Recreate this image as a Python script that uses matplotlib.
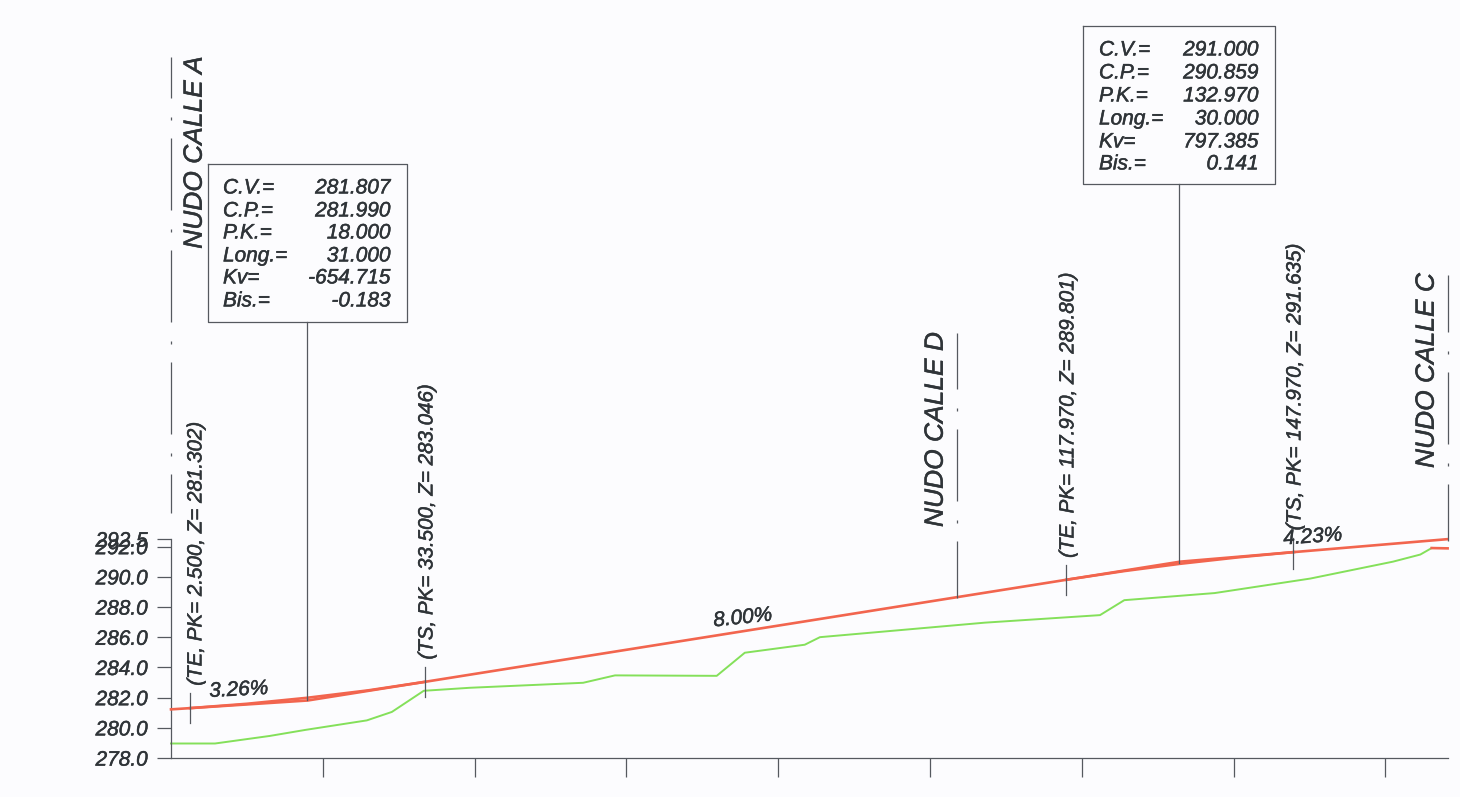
import matplotlib
matplotlib.use("Agg")
import matplotlib.pyplot as plt
import matplotlib.patheffects as pe
from matplotlib.text import Text

W, H = 1460, 797
INK = "#2f3438"
LINE = "#55595f"
RED = "#f2654e"
GREEN = "#84e05a"

# terrain
terrain_pk = [0, 5.8, 13.0, 17.7, 25.8, 29.1, 33.3, 39.4, 54.3, 58.5, 71.9, 75.6,
              83.5, 85.5, 107.2, 122.4, 125.6, 137.5, 150.1, 161.0, 164.6, 166.1]
terrain_z = [278.96, 278.96, 279.46, 279.86, 280.49, 281.05, 282.45, 282.65, 282.98,
             283.47, 283.44, 284.97, 285.5, 286.0, 286.96, 287.46, 288.45, 288.92,
             289.88, 291.0, 291.47, 291.9]

# grade line: tangents, then the vertical curves
tangent_pk = [0, 18.0, 132.97, 168.2]
tangent_z = [281.22, 281.807, 291.0, 292.49]
curve_pk = [2.5, 10.0, 18.0, 26.0, 33.5, 117.97, 125.5, 132.97, 140.5, 147.97]
curve_z = [281.302, 281.59, 281.99, 282.48, 283.046, 289.801, 290.37, 290.859, 291.28, 291.635]
stub_pk = [166.1, 168.2]
stub_z = [291.9, 291.88]

y_ticks = [278, 280, 282, 284, 286, 288, 290, 292, 292.5]
x_ticks = [20, 40, 60, 80, 100, 120, 140, 160]

labels_a = ["C.V.=", "C.P.=", "P.K.=", "Long.=", "Kv=", "Bis.="]
values_a = ["281.807", "281.990", "18.000", "31.000", "-654.715", "-0.183"]
values_b = ["291.000", "290.859", "132.970", "30.000", "797.385", "0.141"]

plt.rcParams["font.family"] = ["Liberation Sans", "DejaVu Sans"]
plt.rcParams["font.style"] = "italic"
plt.rcParams["lines.scale_dashes"] = False
plt.rcParams["text.hinting"] = "no_hinting"
plt.rcParams["text.hinting_factor"] = 1

fig = plt.figure(figsize=(W / 100, H / 100), dpi=100, facecolor="#fcfcfe")

# data axes sit exactly on the plotted frame
ax = fig.add_axes([171 / W, (H - 758) / H, (1448 - 171) / W, (758 - 539) / H])
ax.patch.set_alpha(0)
ax.set_xlim(0, 168.25)
ax.set_ylim(278, 292.5)
for side in ("top", "right"):
    ax.spines[side].set_visible(False)
for side in ("left", "bottom"):
    ax.spines[side].set_color(LINE)
    ax.spines[side].set_linewidth(0.9)
ax.set_xticks(x_ticks)
ax.set_xticklabels([])
ax.set_yticks(y_ticks)
ax.set_yticklabels([f"{t:.1f}" for t in y_ticks], fontsize=15, color=INK)
ax.tick_params(axis="x", direction="out", length=13.7, width=0.9, color=LINE)
ax.tick_params(axis="y", direction="out", length=10, width=0.9, color=LINE, pad=6.5)

ax.plot(terrain_pk, terrain_z, color=GREEN, lw=1.4, clip_on=False)
ax.plot(tangent_pk, tangent_z, color=RED, lw=1.9, clip_on=False, zorder=3)
ax.plot(curve_pk[:5], curve_z[:5], color=RED, lw=1.9, zorder=3)
ax.plot(curve_pk[5:], curve_z[5:], color=RED, lw=1.9, zorder=3)
ax.plot(stub_pk, stub_z, color=RED, lw=1.9, clip_on=False, zorder=3)

# overlay in pixels for the annotations around the profile
ov = fig.add_axes([0, 0, 1, 1])
ov.set_xlim(0, W)
ov.set_ylim(H, 0)
ov.axis("off")
ov.patch.set_alpha(0)


def note_line(x, top, bottom, first):
    # long dash / dot pattern, 112 px period
    pattern = tuple(v * 0.72 for v in (72, 19, 3, 18))
    ov.plot([x, x], [top, bottom], color=LINE, lw=0.9,
            linestyle=((72 - first) * 0.72, pattern), dash_capstyle="butt")


note_line(171, 57, 513, 41)
note_line(957, 333, 598, 56)
note_line(1448, 275, 541, 57)

for x, ymid, name in [(195, 154, "NUDO CALLE A"), (936, 431, "NUDO CALLE D"), (1427, 372, "NUDO CALLE C")]:
    ov.text(x, ymid, name, rotation=90, ha="center", va="center", fontsize=19, color=INK)

for x, y0, y1, lx, ly, txt in [
    (190, 693, 723, 196, 551, "(TE, PK= 2.500, Z= 281.302)"),
    (425, 667, 697, 427, 519, "(TS, PK= 33.500, Z= 283.046)"),
    (1066, 565, 595, 1068, 412, "(TE, PK= 117.970, Z= 289.801)"),
    (1293, 538, 569, 1295, 384, "(TS, PK= 147.970, Z= 291.635)"),
]:
    ov.plot([x, x], [y0, y1], color=LINE, lw=0.9)
    ov.text(lx, ly, txt, rotation=90, ha="center", va="center", fontsize=14.8, color=INK)

for cx, cy, rot, txt in [(239, 690, 3, "3.26%"), (743, 618, 6, "8.00%"), (1313, 537, 4, "4.23%")]:
    ov.text(cx, cy, txt, rotation=rot, ha="center", va="center", fontsize=15, color=INK,
            rotation_mode="anchor")


def callout(x0, x1, y0, y1, stem_x, stem_end, left, right, rows, values):
    ov.plot([x0, x1, x1, x0, x0], [y0, y0, y1, y1, y0], color=LINE, lw=0.9)
    ov.plot([stem_x, stem_x], [y1, stem_end], color=LINE, lw=0.9)
    for row, lab, val in zip(rows, labels_a, values):
        ov.text(left, row + 1, lab, ha="left", va="center", fontsize=15, color=INK)
        ov.text(right, row + 1, val, ha="right", va="center", fontsize=15, color=INK)


callout(208, 407, 164, 322, 307, 700, 223, 391, [187, 210, 232, 255, 277, 300], values_a)
callout(1083, 1275, 26, 184, 1179, 563, 1099, 1259, [49, 72, 95, 118, 141, 163], values_b)

# the scan thickens all the lettering a little
for t in fig.findobj(Text):
    t.set_path_effects([pe.withStroke(linewidth=0.35, foreground=INK)])

fig.savefig("out.png", dpi=100, facecolor=fig.get_facecolor())
